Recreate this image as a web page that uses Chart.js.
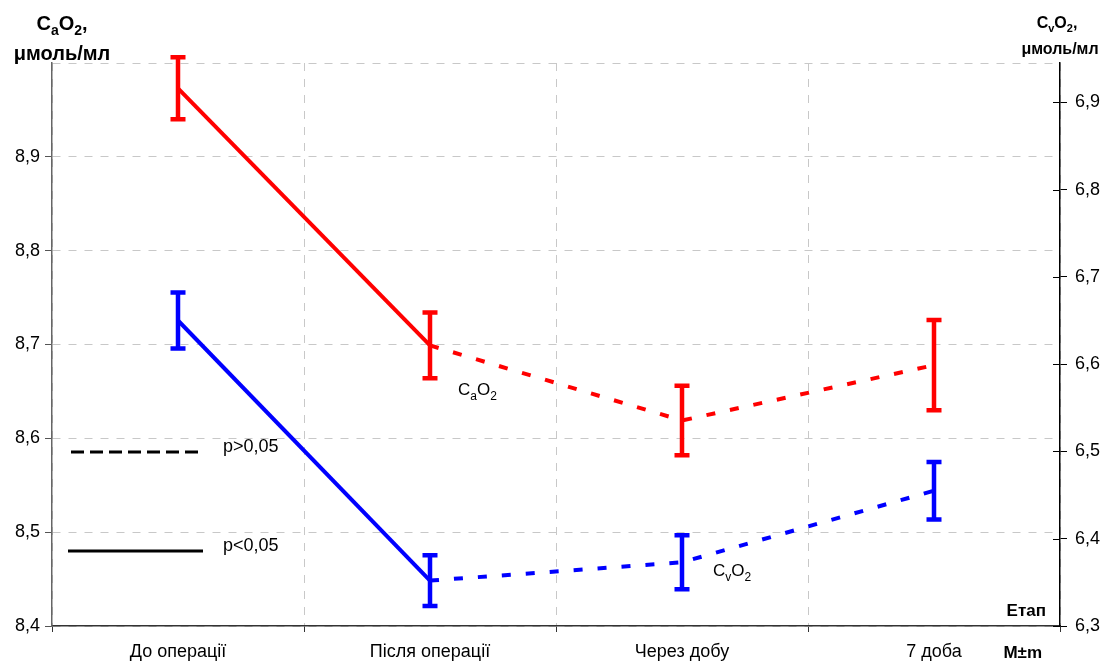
<!DOCTYPE html>
<html>
<head>
<meta charset="utf-8">
<script src="https://cdn.jsdelivr.net/npm/chart.js@4.4.0/dist/chart.umd.min.js"></script>
<style>
  html, body { margin: 0; padding: 0; background: #fff; }
  #wrap { width: 1108px; height: 666px; }
</style>
</head>
<body>
<div id="wrap"><canvas id="chart"></canvas></div>
<script>
// stages on the x axis
const stages = ['До операції', 'Після операції', 'Через добу', '7 доба']

// CaO2 (left axis), M and m
const caO2 = [8.973, 8.699, 8.619, 8.678]
const caO2Err = [0.033, 0.035, 0.037, 0.048]

// CvO2 (right axis), M and m
const cvO2 = [6.650, 6.352, 6.373, 6.455]
const cvO2Err = [0.032, 0.029, 0.031, 0.033]

const leftRange = [8.4, 9.0]
const rightRange = [6.3, 6.945]

const FONT = '"Liberation Sans", Arial, sans-serif'
const RED = '#ff0000'
const BLUE = '#0000ff'

const fmt = (v) => v.toFixed(1).replace('.', ',')

// first segment solid (p<0,05), the rest dashed (p>0,05)
const segDash = (ctx) => (ctx.p0DataIndex >= 1 ? [9, 15] : undefined)

// text with subscripts: parts = [[text, isSub], ...]
const drawSubText = (ctx, parts, x, y, size, weight, align) => {
  const subSize = Math.round(size * 0.7)
  let total = 0
  for (const [t, sub] of parts) {
    ctx.font = `${weight} ${sub ? subSize : size}px ${FONT}`
    total += ctx.measureText(t).width
  }
  let cx = align === 'center' ? x - total / 2 : align === 'right' ? x - total : x
  ctx.textAlign = 'left'
  ctx.textBaseline = 'alphabetic'
  for (const [t, sub] of parts) {
    ctx.font = `${weight} ${sub ? subSize : size}px ${FONT}`
    ctx.fillText(t, cx, sub ? y + size * 0.25 : y)
    cx += ctx.measureText(t).width
  }
}

const extras = {
  id: 'extras',
  afterDatasetsDraw(chart) {
    const { ctx, chartArea: a, scales } = chart
    const x = scales.x
    ctx.save()

    // error bars
    const bars = [
      { data: caO2, err: caO2Err, axis: scales.y, color: RED },
      { data: cvO2, err: cvO2Err, axis: scales.y1, color: BLUE },
    ]
    ctx.lineWidth = 4.5
    ctx.lineCap = 'butt'
    for (const b of bars) {
      ctx.strokeStyle = b.color
      b.data.forEach((v, i) => {
        const px = x.getPixelForValue(i)
        const top = b.axis.getPixelForValue(v + b.err[i])
        const bot = b.axis.getPixelForValue(v - b.err[i])
        ctx.beginPath()
        ctx.moveTo(px, top); ctx.lineTo(px, bot)
        ctx.moveTo(px - 7.5, top); ctx.lineTo(px + 7.5, top)
        ctx.moveTo(px - 7.5, bot); ctx.lineTo(px + 7.5, bot)
        ctx.stroke()
      })
    }

    // inner part of right-axis tick marks
    ctx.strokeStyle = '#000'
    ctx.lineWidth = 1
    for (const t of scales.y1.ticks) {
      const py = Math.round(scales.y1.getPixelForValue(t.value)) + 0.5
      ctx.beginPath()
      ctx.moveTo(a.right - 7, py); ctx.lineTo(a.right, py)
      ctx.stroke()
    }

    ctx.fillStyle = '#000'
    // series labels
    const p1 = { x: x.getPixelForValue(1), y: scales.y.getPixelForValue(caO2[1]) }
    drawSubText(ctx, [['C', 0], ['a', 1], ['O', 0], ['2', 1]], p1.x + 28, p1.y + 50, 17, 'normal', 'left')
    const p2 = { x: x.getPixelForValue(2), y: scales.y1.getPixelForValue(cvO2[2]) }
    drawSubText(ctx, [['C', 0], ['v', 1], ['O', 0], ['2', 1]], p2.x + 31, p2.y + 14, 17, 'normal', 'left')

    // axis titles
    drawSubText(ctx, [['C', 0], ['a', 1], ['O', 0], ['2', 1], [',', 0]], 62, 30, 20, 'bold', 'center')
    drawSubText(ctx, [['μмоль/мл', 0]], 62, 60, 20, 'bold', 'center')
    drawSubText(ctx, [['C', 0], ['v', 1], ['O', 0], ['2', 1], [',', 0]], 1057, 28, 16, 'bold', 'center')
    drawSubText(ctx, [['μмоль/мл', 0]], 1060, 54, 16, 'bold', 'center')

    // corner labels
    ctx.font = `bold 17px ${FONT}`
    ctx.textAlign = 'right'
    ctx.fillText('Етап', a.right - 14, a.bottom - 10)
    ctx.fillText('M±m', a.right - 18, a.bottom + 32)

    // significance key
    ctx.strokeStyle = '#000'
    ctx.lineWidth = 3
    ctx.setLineDash([13, 6])
    ctx.beginPath()
    ctx.moveTo(a.left + 19, 452); ctx.lineTo(a.left + 151, 452)
    ctx.stroke()
    ctx.setLineDash([])
    ctx.beginPath()
    ctx.moveTo(a.left + 16, 551); ctx.lineTo(a.left + 151, 551)
    ctx.stroke()
    ctx.font = `18px ${FONT}`
    ctx.textAlign = 'left'
    ctx.fillText('p>0,05', a.left + 171, 452)
    ctx.fillText('p<0,05', a.left + 171, 551)

    ctx.restore()
  },
}

new Chart(document.getElementById('chart'), {
  type: 'line',
  data: {
    labels: stages,
    datasets: [
      {
        label: 'CaO2',
        data: caO2,
        yAxisID: 'y',
        borderColor: RED,
        borderWidth: 4,
        pointRadius: 0,
        tension: 0,
        segment: { borderDash: segDash },
      },
      {
        label: 'CvO2',
        data: cvO2,
        yAxisID: 'y1',
        borderColor: BLUE,
        borderWidth: 4,
        pointRadius: 0,
        tension: 0,
        segment: { borderDash: segDash },
      },
    ],
  },
  options: {
    responsive: true,
    maintainAspectRatio: false,
    animation: false,
    layout: { padding: { top: 63, left: 0, right: 0, bottom: 0 } },
    plugins: { legend: { display: false }, tooltip: { enabled: false } },
    scales: {
      x: {
        offset: true,
        grid: {
          offset: true,
          color: '#c8c8c8',
          lineWidth: 1,
          tickLength: 6,
          tickColor: '#333',
          tickBorderDash: [],
        },
        border: { color: '#333', width: 1.5, dash: [8, 8] },
        ticks: { color: '#000', font: { family: FONT, size: 18 }, padding: 9, maxRotation: 0, autoSkip: false },
        afterFit: (s) => { s.height = 40 },
      },
      y: {
        position: 'left',
        min: leftRange[0],
        max: leftRange[1],
        grid: {
          color: '#c8c8c8',
          lineWidth: 1,
          tickLength: 7,
          tickColor: (c) => (c.tick && c.tick.value > 8.95 ? 'rgba(0,0,0,0)' : '#555'),
          tickBorderDash: [],
        },
        border: { color: '#666', width: 1.5, dash: [8, 8] },
        ticks: {
          stepSize: 0.1,
          padding: 5,
          color: '#000',
          font: { family: FONT, size: 18 },
          callback: (v) => (v > 8.95 ? '' : fmt(v)),
        },
        afterFit: (s) => { s.width = 52 },
      },
      y1: {
        position: 'right',
        min: rightRange[0],
        max: rightRange[1],
        grid: { drawOnChartArea: false, tickLength: 7, tickColor: '#000', tickBorderDash: [] },
        border: { color: '#000', width: 1.5 },
        ticks: {
          stepSize: 0.1,
          padding: 8,
          color: '#000',
          font: { family: FONT, size: 18 },
          callback: (v) => fmt(v),
        },
        afterBuildTicks: (s) => {
          s.ticks = s.ticks.filter((t) => Math.abs(t.value * 10 - Math.round(t.value * 10)) < 1e-6)
        },
        afterFit: (s) => { s.width = 48 },
      },
    },
  },
  plugins: [extras],
})
</script>
</body>
</html>
